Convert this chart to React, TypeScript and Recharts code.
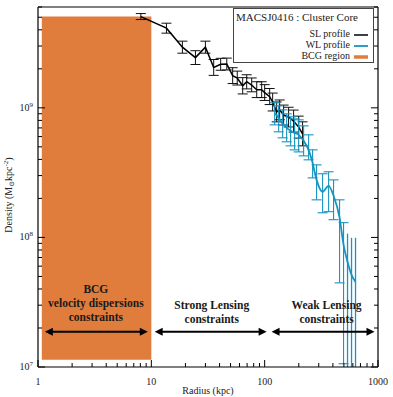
import React from 'react';
import { ComposedChart, Line, XAxis, YAxis, ErrorBar, ReferenceArea, ReferenceLine, ReferenceDot, Legend } from 'recharts';

// ---------- data ----------
const slRadius = [8.08, 13.6, 18.8, 24.5, 30.0, 35.5, 40.9, 46.3, 52.2, 57.3, 64.0, 69.4, 76.8, 85.1, 94.1, 100, 110.7, 117.6, 127.6, 135.6, 147, 162.6, 180, 199.5, 216];
const slDensity = [5.06e9, 4.12e9, 2.94e9, 2.44e9, 2.94e9, 2.05e9, 2.17e9, 2.18e9, 1.77e9, 1.70e9, 1.48e9, 1.59e9, 1.50e9, 1.38e9, 1.38e9, 1.31e9, 1.22e9, 1.11e9, 0.93e9, 0.966e9, 0.88e9, 0.85e9, 0.79e9, 0.71e9, 0.63e9];
const slLower = [4.80e9, 3.77e9, 2.64e9, 2.16e9, 2.64e9, 1.78e9, 1.95e9, 1.96e9, 1.54e9, 1.50e9, 1.28e9, 1.40e9, 1.33e9, 1.20e9, 1.20e9, 1.14e9, 1.06e9, 0.946e9, 0.779e9, 0.809e9, 0.737e9, 0.712e9, 0.650e9, 0.584e9, 0.509e9];
const slUpper = [5.34e9, 4.50e9, 3.27e9, 2.76e9, 3.27e9, 2.36e9, 2.41e9, 2.42e9, 2.04e9, 1.92e9, 1.71e9, 1.80e9, 1.70e9, 1.59e9, 1.59e9, 1.51e9, 1.41e9, 1.30e9, 1.11e9, 1.15e9, 1.05e9, 1.01e9, 0.961e9, 0.863e9, 0.780e9];

const wlRadius = [122.5, 132.8, 144.1, 156.3, 169.4, 183.7, 199.4, 220.6, 244.2, 264.8, 287.1, 324.4, 366.6, 405.4, 458.1, 496.7, 538.5, 584, 633.5];
const wlDensity = [9.15e8, 8.37e8, 7.53e8, 7.01e8, 6.65e8, 6.41e8, 6.19e8, 5.56e8, 4.74e8, 3.76e8, 2.78e8, 2.25e8, 2.50e8, 2.10e8, 1.42e8, 8.77e7, 6.48e7, 5.14e7, 4.54e7];
// lower bound of null = error bar runs off the bottom of the plot (clipped at the axis)
const wlLower = [7.39e8, 6.53e8, 5.87e8, 5.47e8, 5.09e8, 4.74e8, 4.57e8, 4.26e8, 3.97e8, 2.88e8, 1.95e8, 1.55e8, 1.58e8, 1.37e8, 4.46e7, 1.06e7, null, null, null];
const wlUpper = [1.093e9, 1.036e9, 0.965e9, 8.99e8, 8.52e8, 8.22e8, 8.08e8, 7.26e8, 6.19e8, 4.74e8, 3.63e8, 3.10e8, 3.21e8, 2.78e8, 1.95e8, 1.30e8, 1.07e8, 9.93e7, 9.93e7];

const xTicks = [1, 2, 3, 4, 5, 6, 7, 8, 9, 10, 20, 30, 40, 50, 60, 70, 80, 90, 100, 200, 300, 400, 500, 600, 700, 800, 900, 1000];
const yTicks = [1e7, 2e7, 3e7, 4e7, 5e7, 6e7, 7e7, 8e7, 9e7, 1e8, 2e8, 3e8, 4e8, 5e8, 6e8, 7e8, 8e8, 9e8, 1e9, 2e9, 3e9, 4e9, 5e9, 6e9];
const xMajor = [1, 10, 100, 1000];
const yMajor = [1e7, 1e8, 1e9];
const yMajorExp = ['7', '8', '9'];
const Y_MIN = 1e7;
const Y_MAX = 6e9;

const bcgRegion = { x1: 1.08, x2: 10, y1: 1.14e7, y2: 5.06e9 };
const arrowY = 1.87e7;
const arrows = [[1.15, 9.31], [10.7, 104], [115, 931]];
const annotations = [
  { x: 3.24, y: 3.74e7, lines: ['BCG', 'velocity dispersions', 'constraints'] },
  { x: 34.1, y: 2.81e7, lines: ['Strong Lensing', 'constraints'] },
  { x: 352, y: 2.81e7, lines: ['Weak Lensing', 'constraints'] },
];

const ORANGE = '#E07C3C';
const BLUE = '#1894C0';
const FONT = '"Liberation Serif", "DejaVu Serif", serif';

const slData = slRadius.map((r, i) => ({ r, d: slDensity[i], err: [slDensity[i] - slLower[i], slUpper[i] - slDensity[i]] }));
const wlData = wlRadius.map((r, i) => {
  const lo = wlLower[i];
  const v = wlDensity[i];
  return lo != null
    ? { r, d: v, err: [v - lo, wlUpper[i] - v] }
    : { r, d: v, errOpen: [v - Y_MIN, wlUpper[i] - v] };
});

// ---------- tick renderers ----------
const XTickBottom = (p: any) => {
  const v = p.payload.value;
  const major = xMajor.includes(v);
  return (
    <g>
      <line x1={p.x} x2={p.x} y1={p.y} y2={p.y - (major ? 7 : 4)} stroke="#000" strokeWidth={1} />
      {major && (
        <text x={p.x} y={p.y + 18} textAnchor="middle" fontFamily={FONT} fontSize={10} fill="#222">{v}</text>
      )}
    </g>
  );
};
const XTickTop = (p: any) => {
  const v = p.payload.value;
  const major = xMajor.includes(v);
  return <line x1={p.x} x2={p.x} y1={p.y} y2={p.y + (major ? 7 : 4)} stroke="#000" strokeWidth={1} />;
};
const YTickLeft = (p: any) => {
  const v = p.payload.value;
  const mi = yMajor.indexOf(v);
  const major = mi >= 0;
  return (
    <g>
      <line x1={p.x} x2={p.x + (major ? 7 : 4)} y1={p.y} y2={p.y} stroke="#000" strokeWidth={1} />
      {major && (
        <text x={p.x - 5} y={p.y + 3} textAnchor="end" fontFamily={FONT} fontSize={10} fill="#222">
          10<tspan fontSize={7} dy={-4}>{yMajorExp[mi]}</tspan>
        </text>
      )}
    </g>
  );
};
const YTickRight = (p: any) => {
  const v = p.payload.value;
  const major = yMajor.includes(v);
  return <line x1={p.x} x2={p.x - (major ? 7 : 4)} y1={p.y} y2={p.y} stroke="#000" strokeWidth={1} />;
};

const YLabel = (p: any) => {
  const vb = p.viewBox;
  const cx = vb.x + 12;
  const cy = vb.y + vb.height / 2 + 8;
  return (
    <text x={cx} y={cy} transform={`rotate(-90 ${cx} ${cy})`} textAnchor="middle" fontFamily={FONT} fontSize={10} fill="#222">
      Density (M<tspan fontSize={7} dy={2}>⊙</tspan><tspan dy={-2}>kpc</tspan><tspan fontSize={7} dy={-4}>-2</tspan><tspan dy={4}>)</tspan>
    </text>
  );
};

const ArrowShape = (p: any) => {
  const { x1, y1, x2, y2 } = p;
  const h = 8, w = 4;
  const xa = Math.min(x1, x2), xb = Math.max(x1, x2);
  return (
    <g>
      <line x1={xa + 4} x2={xb - 4} y1={y1} y2={y2} stroke="#000" strokeWidth={2} />
      <polygon points={`${xa},${y1} ${xa + h},${y1 - w} ${xa + h},${y1 + w}`} fill="#000" />
      <polygon points={`${xb},${y1} ${xb - h},${y1 - w} ${xb - h},${y1 + w}`} fill="#000" />
    </g>
  );
};

const makeTextShape = (lines: string[]) => (p: any) => (
  <text x={p.cx} y={p.cy} textAnchor="middle" fontFamily={FONT} fontWeight="bold" fontSize={11.5} fill="#1a1a1a">
    {lines.map((l, i) => (
      <tspan key={i} x={p.cx} dy={i === 0 ? 0 : 14}>{l}</tspan>
    ))}
  </text>
);

const LegendBox = () => (
  <svg width={141} height={55} style={{ display: 'block' }}>
    <rect x={0.5} y={0.5} width={140} height={54} fill="#fff" stroke="#444" strokeWidth={1} />
    <text x={3} y={13} fontFamily={FONT} fontSize={11} fill="#222">MACSJ0416 : Cluster Core</text>
    <text x={117} y={29} textAnchor="end" fontFamily={FONT} fontSize={10} fill="#222">SL profile</text>
    <text x={117} y={40} textAnchor="end" fontFamily={FONT} fontSize={10} fill="#222">WL profile</text>
    <text x={117} y={51} textAnchor="end" fontFamily={FONT} fontSize={10} fill="#222">BCG region</text>
    <line x1={121} x2={135} y1={27} y2={27} stroke="#000" strokeWidth={1.5} />
    <line x1={121} x2={135} y1={38} y2={38} stroke={BLUE} strokeWidth={1.8} />
    <line x1={121} x2={135} y1={49} y2={49} stroke={ORANGE} strokeWidth={3.5} />
  </svg>
);

export default function App() {
  return (
    <div style={{ position: 'absolute', left: 0, top: 0, background: '#fff' }}>
      <ComposedChart width={393} height={397} margin={{ top: 0, right: 0, bottom: 0, left: 0 }}>
        <XAxis
          xAxisId="b" dataKey="r" type="number" scale="log" domain={[1, 1000]} allowDataOverflow
          orientation="bottom" height={30} ticks={xTicks} interval={0} tick={XTickBottom}
          tickSize={0} tickMargin={0} tickLine={false} axisLine={{ stroke: '#000', strokeWidth: 1.2 }}
          label={{ value: 'Radius (kpc)', position: 'insideBottom', offset: 3, fontFamily: FONT, fontSize: 10, fill: '#222' }}
        />
        <XAxis
          xAxisId="t" type="number" scale="log" domain={[1, 1000]} allowDataOverflow
          orientation="top" height={7} ticks={xTicks} interval={0} tick={XTickTop}
          tickSize={0} tickMargin={0} tickLine={false} axisLine={{ stroke: '#000', strokeWidth: 1.2 }}
        />
        <YAxis
          yAxisId="l" type="number" scale="log" domain={[Y_MIN, Y_MAX]} allowDataOverflow
          orientation="left" width={38} ticks={yTicks} interval={0} tick={YTickLeft}
          tickSize={0} tickMargin={0} tickLine={false} axisLine={{ stroke: '#000', strokeWidth: 1.2 }}
          label={<YLabel />}
        />
        <YAxis
          yAxisId="r" type="number" scale="log" domain={[Y_MIN, Y_MAX]} allowDataOverflow
          orientation="right" width={15} ticks={yTicks} interval={0} tick={YTickRight}
          tickSize={0} tickMargin={0} tickLine={false} axisLine={{ stroke: '#000', strokeWidth: 1.2 }}
        />
        <ReferenceArea xAxisId="b" yAxisId="l" x1={bcgRegion.x1} x2={bcgRegion.x2} y1={bcgRegion.y1} y2={bcgRegion.y2} fill={ORANGE} fillOpacity={1} stroke="none" />
        <Line xAxisId="b" yAxisId="l" data={slData} dataKey="d" type="linear" stroke="#000" strokeWidth={1.5} dot={false} isAnimationActive={false}>
          <ErrorBar dataKey="err" direction="y" width={5} stroke="#111" strokeWidth={1} />
        </Line>
        <Line xAxisId="b" yAxisId="l" data={wlData} dataKey="d" type="monotone" stroke={BLUE} strokeWidth={1.8} dot={false} isAnimationActive={false}>
          <ErrorBar dataKey="err" direction="y" width={5} stroke={BLUE} strokeWidth={1.1} />
          <ErrorBar dataKey="errOpen" direction="y" width={0} stroke={BLUE} strokeWidth={1.3} />
        </Line>
        {arrows.map((a, i) => (
          <ReferenceLine key={i} xAxisId="b" yAxisId="l" segment={[{ x: a[0], y: arrowY }, { x: a[1], y: arrowY }]} shape={ArrowShape} />
        ))}
        {annotations.map((a, i) => (
          <ReferenceDot key={i} xAxisId="b" yAxisId="l" x={a.x} y={a.y} r={0} shape={makeTextShape(a.lines)} />
        ))}
        <Legend
          layout="vertical" align="center" verticalAlign="middle" content={LegendBox}
          wrapperStyle={{ position: 'absolute', left: 233, top: 8, width: 141, height: 55 }}
        />
      </ComposedChart>
    </div>
  );
}
